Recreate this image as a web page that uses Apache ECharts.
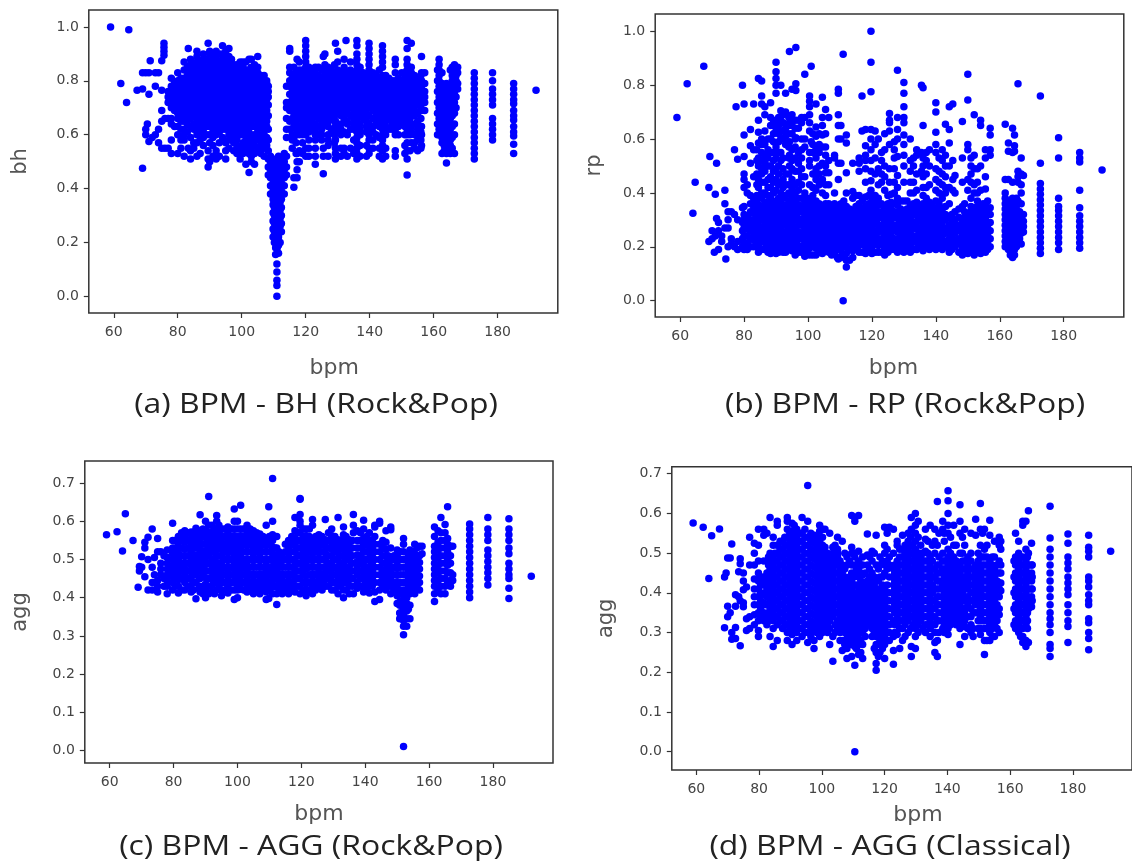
<!DOCTYPE html>
<html><head><meta charset="utf-8">
<style>html,body{margin:0;padding:0;background:#fff;overflow:hidden}#c{width:1132px;height:861px}</style>
<script src="https://cdn.jsdelivr.net/npm/echarts@6/dist/echarts.min.js"></script>
</head><body><div id="c"></div>
<script>
const xTicks=[60,80,100,120,140,160,180];
const bhTicks=[0,.2,.4,.6,.8,1];
const rpTicks=[0,.2,.4,.6,.8,1];
const aggTicks=[0,.1,.2,.3,.4,.5,.6,.7];
const captions=["(a) BPM - BH (Rock&Pop)","(b) BPM - RP (Rock&Pop)","(c) BPM - AGG (Rock&Pop)","(d) BPM - AGG (Classical)"];

// Each entry: [bpm, [values read at that bpm]]
const bhColumns=[
[59,[1]],[62.2,[.79]],[64,[.72]],[64.7,[.99]],[67.3,[.765]],[69,[.77,.83,.475]],[70,[.83,.6,.62]],[70.5,[.64]],[71,[.83,.75,.575]],[71.4,[.875]],[72,[.59]],[73,[.83,.6,.78]],[74,[.83,.57,.62]],[75,[.875,.765,.69,.65,.55]],[75.7,[.94,.925,.91,.895]],[76,[.66,.55]],
[77,[.66,.72,.74,.76,.55]],[78,[.53,.58,.64,.66,.7,.72,.74,.76,.78,.81]],
[80,[.53,.6,.63,.66,.68,.7,.72,.74,.76,.78,.8,.83]],
[82,[.52,.58,.6,.62,.65,.67,.69,.71,.73,.75,.77,.79,.81,.84,.87]],
[83.3,[.55,.92]],
[84,[.51,.54,.59,.63,.66,.68,.7,.72,.74,.76,.78,.8,.82,.84,.86,.88]],
[86,[.52,.57,.6,.62,.65,.67,.69,.71,.73,.75,.77,.79,.81,.83,.85,.87,.89,.91]],
[88,[.56,.59,.62,.64,.66,.68,.7,.72,.74,.76,.78,.8,.82,.84,.86,.88,.9]],
[89.5,[.94,.48,.51,.54]],
[90,[.5,.57,.6,.63,.65,.67,.69,.71,.73,.75,.77,.79,.81,.83,.85,.87,.9,.91]],
[92,[.51,.54,.6,.62,.64,.66,.68,.7,.72,.74,.76,.78,.8,.82,.84,.86,.88,.91]],
[94,[.59,.62,.64,.66,.68,.7,.72,.74,.76,.78,.8,.82,.84,.86,.88,.9,.93]],
[95,[.51,.54,.57]],
[96,[.6,.63,.65,.67,.69,.71,.73,.75,.77,.79,.81,.83,.85,.87,.89,.92]],
[97.5,[.54,.57,.59,.61,.64,.66,.68,.7,.72,.74,.76,.78,.8,.82,.84,.86]],
[99.5,[.51,.55,.6,.62,.65,.67,.69,.71,.73,.75,.77,.79,.81,.83,.85,.87]],
[101.3,[.49,.54,.56,.58,.61,.64,.66,.68,.7,.72,.74,.76,.78,.8,.82,.84,.87]],
[102.3,[.46,.88]],
[103,[.5,.52,.55,.58,.6,.63,.65,.67,.69,.71,.73,.75,.77,.79,.81,.83,.85,.88]],
[105,[.55,.58,.6,.62,.65,.67,.69,.71,.73,.75,.77,.79,.81,.83,.85,.89]],
[107,[.52,.55,.58,.6,.62,.64,.66,.68,.7,.72,.74,.76,.78,.8,.82]],
[108.3,[.45,.48,.51,.54,.58,.62,.67,.71,.74,.76,.78]],
[109,[.38,.41,.44,.47,.5,.52]],
[109.8,[.22,.25,.28,.31,.34,.36,.39,.42,.45,.48,.51]],
[110.6,[.155,.18,.2,.23,.26,.29,.32,.35,.38,.41,.44,.47,.5]],
[111,[0,.04,.06,.09,.12]],
[111.5,[.16,.19,.22,.25,.28,.31,.34,.37,.4,.43,.46,.49,.52]],
[112.4,[.24,.27,.3,.33,.36,.39,.42,.45,.48,.51]],
[113.3,[.38,.41,.44,.47,.5,.53]],
[114,[.45,.48,.52,.59,.62,.66,.7,.72,.78]],
[115,[.62,.65,.69,.72,.75,.78,.8,.83,.85,.91,.92]],
[116.3,[.405,.44,.59,.63,.68,.7,.72,.74,.76,.78,.8,.82,.85]],
[117.3,[.44,.47,.5,.53,.88]],
[118,[.5,.54,.6,.63,.66,.68,.7,.72,.74,.76,.78,.8,.82,.84,.87]],
[120,[.52,.55,.6,.62,.65,.67,.69,.71,.73,.75,.77,.79,.81,.83,.85,.87,.89,.91,.93,.95]],
[122,[.62,.65,.67,.69,.71,.73,.75,.77,.79,.81,.84]],
[123,[.49,.52,.55,.58,.85]],
[124,[.6,.63,.66,.68,.7,.72,.74,.76,.78,.8,.82,.85]],
[125.5,[.455,.52,.55,.89]],
[126,[.64,.67,.69,.71,.73,.75,.77,.79,.81,.83,.86,.9]],
[128,[.62,.66,.68,.7,.72,.74,.76,.78,.8,.82,.84]],
[129.3,[.51,.53,.55,.58,.61,.63,.65,.94]],
[130,[.68,.7,.72,.74,.76,.78,.8,.82,.84,.87,.91]],
[132,[.53,.55,.61,.66,.69,.71,.73,.75,.77,.79,.81,.83,.85,.88]],
[132.6,[.95]],
[134,[.62,.55,.67,.7,.72,.74,.76,.78,.8,.82,.84,.87]],
[136,[.51,.53,.55,.57,.59,.61,.63,.65,.68,.7,.72,.74,.76,.78,.8,.82,.84,.86,.88,.9,.93,.95]],
[138,[.66,.69,.71,.73,.75,.77,.79,.81,.83]],
[139.8,[.53,.55,.58,.6,.62,.64,.67,.7,.72,.74,.76,.78,.8,.82,.84,.86,.88,.9,.92,.94]],
[142,[.6,.65,.68,.7,.72,.74,.76,.78,.8,.82]],
[144,[.51,.54,.56,.58,.6,.62,.64,.66,.68,.7,.72,.74,.76,.78,.8,.82,.85,.87,.89,.91,.93]],
[146,[.62,.66,.69,.71,.73,.75,.77,.79,.81]],
[148,[.52,.54,.6,.62,.65,.67,.7,.72,.74,.76,.78,.8,.83,.86,.88]],
[150,[.65,.68,.7,.72,.74,.76,.78,.8,.83]],
[151.7,[.45,.51,.54,.57,.6,.62,.64,.67,.7,.72,.74,.76,.78,.8,.82,.84,.86,.88,.92,.95]],
[153,[.57,.61,.63,.68,.7,.72,.74,.76,.78,.8,.83,.85,.94]],
[155,[.54,.58,.6,.62,.65,.68,.71,.73,.75,.77,.79,.81]],
[156.2,[.56,.6,.63,.69,.72,.74,.76,.78,.8,.83,.89]],
[157.2,[.69,.72,.74,.76,.79,.83]],
[161.7,[.6,.62,.64,.66,.68,.7,.72,.74,.76,.78,.8,.82,.84,.86,.88]],
[162.6,[.53,.57,.59,.61,.63,.65,.67,.69,.71,.73,.75,.77,.79,.83]],
[164,[.495,.53,.55,.57,.59,.61,.63,.65,.67,.69,.71,.73,.75,.77,.79]],
[165.2,[.53,.56,.58,.6,.62,.64,.66,.68,.7,.72,.74,.76,.78,.84]],
[166.5,[.53,.6,.64,.68,.72,.75,.77,.79,.81,.83,.85,.86]],
[167.5,[.77,.79,.83,.85]],
[172.7,[.51,.53,.55,.57,.59,.61,.63,.65,.67,.69,.71,.73,.75,.77,.79,.81,.83]],
[178.4,[.58,.6,.62,.64,.66,.71,.73,.75,.77,.8,.83]],
[185,[.53,.565,.595,.61,.63,.655,.67,.69,.715,.73,.75,.77,.79]],
[192,[.765]]
];
const bhDense=[
[79,[.63,.69,.71,.73,.75,.77,.79]],[81,[.55,.58,.62,.65,.67,.69,.71,.73,.75,.77,.79,.81]],[83,[.61,.64,.66,.68,.7,.72,.74,.76,.78,.8,.82,.85]],[85,[.55,.57,.62,.64,.67,.69,.71,.73,.75,.77,.79,.81,.83,.86]],[87,[.53,.58,.61,.64,.66,.68,.7,.72,.74,.76,.78,.8,.82,.84,.87]],[89,[.6,.63,.65,.67,.69,.71,.73,.75,.77,.79,.81,.83,.85,.88]],[91,[.52,.56,.59,.62,.64,.66,.68,.7,.72,.74,.76,.78,.8,.82,.84,.86,.89]],[93,[.52,.57,.61,.63,.65,.67,.69,.71,.73,.75,.77,.79,.81,.83,.85,.87,.9]],[95,[.62,.64,.66,.68,.7,.72,.74,.76,.78,.8,.82,.84,.86,.88,.91]],[96,[.55,.58]],[96.8,[.62,.65,.67,.69,.71,.73,.75,.77,.79,.81,.83,.85,.88]],[98.5,[.53,.56,.58,.6,.63,.65,.67,.69,.71,.73,.75,.77,.79,.81,.83,.86]],[100.4,[.53,.57,.6,.63,.65,.67,.69,.71,.73,.75,.77,.79,.81,.83,.85,.87]],[102.2,[.53,.56,.59,.62,.64,.66,.68,.7,.72,.74,.76,.78,.8,.82,.84]],[104,[.49,.53,.56,.58,.6,.63,.66,.68,.7,.72,.74,.76,.78,.8,.82,.84,.86]],[106,[.53,.56,.58,.6,.63,.66,.68,.7,.72,.74,.76,.78,.8,.82]],[107.8,[.56,.59,.63,.65,.69,.73,.75,.77,.79,.8]],
[110.2,[.2,.24,.27,.3,.33,.37,.4,.43,.46,.49]],[111.1,[.18,.21,.24,.27,.3,.33,.36,.39,.42,.45,.48,.51]],[112,[.2,.26,.29,.32,.35,.38,.41,.44,.47,.5]],
[115.8,[.55,.58,.6,.66,.69,.71,.73,.75,.77,.79,.81]],[117,[.53,.57,.6,.62,.65,.67,.69,.71,.73,.75,.77,.79,.81,.83]],[119,[.53,.57,.6,.62,.64,.66,.68,.7,.72,.74,.76,.78,.8,.82,.84]],[121,[.52,.55,.58,.61,.63,.66,.68,.7,.72,.74,.76,.78,.8,.82,.85]],[123,[.6,.62,.64,.67,.69,.71,.73,.75,.77,.79,.81,.83]],[125,[.58,.6,.62,.65,.67,.69,.71,.73,.75,.77,.79,.81,.84]],[127,[.52,.56,.58,.6,.63,.65,.68,.7,.72,.74,.76,.78,.8,.82,.85]],[129,[.57,.6,.62,.65,.67,.69,.71,.73,.75,.77,.79,.81,.83,.86]],[131,[.52,.55,.6,.62,.64,.67,.69,.71,.73,.75,.77,.79,.81,.83]],[133,[.52,.6,.64,.65,.68,.7,.72,.74,.76,.78,.8,.82]],[135,[.53,.58,.62,.64,.66,.69,.71,.73,.75,.77,.79,.81,.83]],[137,[.52,.56,.6,.62,.64,.67,.7,.72,.74,.76,.78,.8,.82,.85]],[139,[.52,.56,.61,.63,.65,.68,.71,.73,.75,.77,.79,.81]],[141,[.55,.58,.61,.63,.66,.69,.71,.73,.75,.77,.79,.81,.83]],[143,[.52,.55,.59,.63,.65,.67,.69,.71,.73,.75,.77,.79,.81,.84]],[145,[.52,.55,.6,.63,.65,.68,.7,.72,.74,.76,.78,.8,.82]],[147,[.62,.64,.66,.68,.7,.72,.74,.76,.78,.8]],[149,[.6,.63,.66,.69,.71,.73,.75,.77,.79,.81]],[151,[.53,.56,.6,.63,.66,.69,.71,.73,.75,.77,.79,.81,.83]],[152.6,[.54,.6,.64,.66,.69,.71,.73,.75,.77,.79,.81]],[154,[.55,.57,.6,.64,.67,.69,.71,.73,.75,.77,.79,.82]],[156,[.55,.58,.61,.63,.66,.7,.72,.74,.76,.78,.8,.82]],
[161.2,[.6,.64,.68,.72,.76,.8,.84]],[163.3,[.54,.56,.58,.6,.62,.64,.66,.68,.7,.72,.74,.76,.78]],[165.8,[.55,.59,.63,.67,.71,.75,.8,.82,.84,.85]],[167,[.7,.74,.78,.8,.82,.84]]
];

const rpColumns=[
[59,[.68]],[62.2,[.805]],[64,[.325]],[64.7,[.44]],[67.4,[.87]],[69,[.42,.22]],[69.3,[.535]],[70,[.26,.23]],[70.7,[.18]],[71,[.395,.24]],[71.4,[.51,.305]],[72,[.19,.29,.26]],[73,[.24,.22]],[74,[.41,.36,.27]],[74.3,[.155]],[75,[.3,.2,.27,.33]],[76,[.33,.23,.21]],[77,[.56,.2,.32]],[77.5,[.72]],[78,[.525,.19,.22,.3]],
[79.5,[.8,.2,.23,.26,.29,.345]],[80,[.73,.615,.535,.47,.45,.42,.35]],
[81,[.19,.215,.24,.265,.29,.315,.4,.43]],[82,[.51,.575,.635,.39]],
[83,[.2,.225,.25,.275,.3,.325,.35,.38,.46,.56,.73]],
[84.5,[.18,.205,.23,.255,.28,.305,.33,.355,.42,.45,.5,.53,.585,.625,.67,.825]],
[85.5,[.38,.47,.55,.73,.76,.815]],
[86.5,[.19,.215,.24,.265,.29,.315,.34,.365,.4,.44,.48,.51,.54,.58,.63,.69,.72]],
[88.3,[.175,.2,.225,.25,.275,.3,.325,.35,.38,.42,.46,.5,.55,.6,.65,.68,.735]],
[90,[.175,.2,.225,.25,.275,.3,.325,.35,.37,.41,.45,.49,.53,.57,.63,.66,.77,.8,.825,.85,.885]],
[91.5,[.19,.215,.24,.265,.29,.315,.34,.365,.4,.44,.52,.55,.6,.63,.67,.705,.8]],
[93,[.18,.205,.23,.255,.28,.305,.33,.355,.39,.43,.47,.58,.61,.64,.7,.77]],
[94.2,[.925,.54,.5,.66,.59]],
[95,[.185,.21,.235,.26,.285,.31,.335,.36,.38,.42,.45,.49,.52,.56,.62,.65,.69,.785]],
[96.2,[.94,.805,.78,.605]],
[97,[.18,.205,.23,.255,.28,.305,.33,.355,.38,.41,.44,.48,.51,.55,.64,.67]],
[99,[.165,.19,.215,.24,.265,.29,.315,.34,.365,.4,.46,.57,.6,.68,.84]],
[100.5,[.17,.195,.22,.245,.27,.295,.32,.345,.37,.43,.5,.52,.55,.63,.66,.69,.72,.74,.76]],
[101,[.87,.59]],
[102.5,[.17,.195,.22,.245,.27,.295,.32,.345,.37,.41,.45,.49,.53,.56,.61,.645,.73]],
[104.5,[.175,.2,.225,.25,.275,.3,.325,.35,.4,.45,.51,.57,.615,.65,.68,.755]],
[105.5,[.71,.62,.54,.475]],
[106.5,[.18,.205,.23,.255,.28,.305,.33,.36,.43,.475,.52,.68]],
[108.3,[.18,.205,.23,.255,.28,.305,.33,.36,.4,.53,.54]],
[109.5,[.155,.6,.65,.69,.785,.77,.45,.51]],
[110.3,[.16,.185,.21,.235,.26,.285,.31,.335,.36,.65,.6,.51]],
[111,[0,.915]],
[112,[.125,.15,.175,.2,.225,.25,.275,.3,.325,.35,.4,.475,.585,.615]],
[114,[.16,.185,.21,.235,.26,.285,.31,.335,.38,.405,.51]],
[116,[.18,.205,.23,.255,.28,.305,.33,.36,.39,.48,.51,.53]],
[116.9,[.76,.63]],
[118,[.175,.2,.225,.25,.275,.3,.325,.35,.385,.44,.49,.52,.54,.575,.635]],
[119.7,[1,.885,.775,.635,.6,.56,.52,.48,.445,.41]],
[120,[.175,.2,.225,.25,.275,.3,.325,.35,.375]],
[121,[.63,.58,.47,.53]],
[122,[.18,.205,.23,.255,.28,.305,.33,.355,.38,.43,.49,.6]],
[124,[.17,.195,.22,.245,.27,.295,.32,.345,.41,.46,.5,.56,.62]],
[125.5,[.44,.49,.58,.63,.67,.695,.66]],
[126,[.19,.215,.24,.265,.29,.315,.34,.365,.395]],
[128,[.18,.205,.23,.255,.28,.305,.33,.355,.38,.42,.465,.535,.6,.635,.68,.855]],
[130,[.18,.205,.23,.255,.28,.305,.33,.37,.44,.5,.54,.58,.615,.68,.66,.72,.77,.81]],
[132,[.18,.205,.23,.255,.28,.305,.33,.355,.4,.44,.48,.52,.6]],
[134,[.19,.215,.24,.265,.29,.315,.34,.365,.41,.47,.54,.56]],
[135.5,[.8,.48,.55]],
[136,[.185,.21,.235,.26,.285,.31,.335,.36,.39,.42,.46,.5,.53,.65,.79]],
[138,[.19,.215,.24,.265,.29,.315,.34,.365,.43,.5,.56]],
[140,[.19,.215,.24,.265,.29,.315,.34,.37,.41,.45,.49,.55,.58,.625,.7,.735]],
[142,[.19,.215,.24,.265,.29,.315,.34,.38,.43,.47,.52,.56]],
[143,[.655,.46,.4]],
[144.2,[.18,.205,.23,.255,.28,.31,.36,.42,.5,.585,.635,.72]],
[145.3,[.73,.52,.45,.41]],
[146,[.2,.225,.25,.275,.3,.33,.465,.4]],
[148.3,[.17,.195,.22,.245,.27,.295,.35,.665,.53,.44]],
[150,[.175,.2,.225,.25,.275,.3,.325,.41,.45,.56,.58,.745,.84]],
[152,[.17,.195,.22,.245,.27,.295,.32,.345,.4,.43,.49,.54,.69]],
[154,[.175,.2,.225,.25,.275,.3,.325,.35,.41,.5,.67,.65]],
[155.5,[.18,.205,.23,.255,.28,.305,.33,.355,.46,.415,.53,.56]],
[157,[.2,.23,.26,.29,.32,.345,.54,.56,.615,.64]],
[161.7,[.2,.22,.24,.26,.28,.3,.32,.34,.36,.38,.4,.45,.655]],
[162.7,[.19,.21,.23,.25,.27,.29,.31,.33,.35,.37,.45,.555,.585]],
[164,[.16,.18,.2,.22,.24,.26,.28,.3,.32,.34,.36,.38,.44,.55,.64]],
[164.6,[.17,.19,.23,.28,.31,.37,.575,.615,.555]],
[165.7,[.21,.25,.29,.33,.37,.44,.46,.48,.805]],
[166.7,[.21,.25,.28,.31,.36,.4,.43,.47,.53]],
[167.4,[.255,.275,.295,.32,.465]],
[172.7,[.175,.195,.215,.235,.255,.275,.295,.315,.335,.355,.375,.395,.415,.435,.51,.76]],
[178.4,[.19,.215,.235,.255,.275,.295,.315,.335,.35,.38,.53,.605]],
[185,[.195,.215,.235,.255,.275,.295,.315,.345,.41,.515,.53,.55]],
[192,[.485]]
];
const rpDense=[
[80,[.19,.21,.24,.27,.3,.32]],[82,[.2,.23,.26,.28,.3,.33,.36]],[84,[.2,.22,.24,.27,.29,.32,.34,.37,.39,.43,.47,.52,.56]],[85.5,[.19,.22,.25,.27,.3,.32,.35,.4,.44,.49,.52,.58,.6]],[87.5,[.18,.21,.23,.26,.28,.31,.33,.36,.39,.42,.45,.5,.53,.56,.6]],[89.2,[.19,.21,.24,.26,.29,.31,.34,.36,.4,.44,.48,.52,.55,.59,.62,.65,.67]],[90.8,[.18,.21,.23,.26,.28,.31,.33,.36,.38,.43,.47,.5,.55,.59,.62,.65,.68]],[92.2,[.18,.2,.23,.25,.28,.3,.33,.35,.38,.42,.45,.49,.53,.6,.63,.66,.69]],[94,[.19,.22,.24,.27,.29,.32,.34,.37,.4,.43,.47,.53,.57,.62,.65,.68]],[96,[.17,.2,.22,.25,.27,.3,.32,.35,.37,.4,.43,.48,.53,.57,.6,.64,.67]],[98,[.18,.2,.23,.25,.28,.3,.33,.35,.38,.43,.46,.49,.53,.56,.6,.66,.68]],[99.8,[.18,.21,.23,.26,.28,.31,.33,.36,.38]],[101.5,[.17,.21,.23,.26,.28,.31,.33,.36,.39,.42,.47,.55,.58,.62]],[103.5,[.18,.21,.24,.26,.29,.31,.34,.36,.43,.47,.5,.55,.58,.62]],[105.5,[.19,.21,.24,.26,.29,.31,.34,.36,.39,.43,.5,.57]],[107.4,[.17,.19,.22,.24,.27,.29,.32,.35]],[109.2,[.16,.19,.22,.24,.27,.29,.32,.35]],[111.2,[.17,.2,.22,.24,.27,.29,.32,.34,.37]],[113,[.15,.19,.22,.24,.27,.29,.32,.34]],[115,[.19,.22,.24,.27,.29,.32,.35,.39]],[117,[.18,.21,.24,.26,.29,.31,.34,.37]],[119,[.19,.21,.24,.26,.29,.31,.34,.36,.39]],[121,[.18,.21,.24,.26,.29,.31,.34,.36,.39]],[123,[.18,.21,.23,.26,.28,.31,.33,.36,.44,.47,.52,.55]],[125,[.18,.21,.23,.26,.28,.31,.33,.36,.39]],[127,[.19,.21,.23,.26,.28,.31,.33,.36,.4,.44,.49,.53,.56,.59]],[129,[.19,.22,.24,.27,.29,.32,.34,.37]],[131,[.19,.22,.24,.27,.29,.32,.34,.37]],[133,[.19,.22,.24,.27,.29,.32,.34,.36,.4,.44,.5,.53]],[135,[.2,.22,.25,.27,.3,.33,.35]],[137,[.2,.22,.25,.28,.3,.33,.35,.38,.42,.47,.52,.55]],[139,[.2,.23,.25,.28,.3,.33,.35]],[141,[.2,.23,.25,.28,.3,.33,.36,.4,.44,.48,.53]],[143,[.2,.22,.25,.27,.3,.32,.35,.42,.5,.54]],[145,[.19,.22,.24,.27,.29,.32]],[147.2,[.18,.21,.23,.26,.28,.31,.34]],[149,[.18,.21,.23,.26,.28,.31,.33,.36]],[151,[.18,.21,.23,.26,.28,.31,.33,.35,.38,.44,.47,.5,.53]],[153,[.18,.21,.23,.26,.28,.31,.33,.35,.37,.4,.44,.49]],[154.8,[.19,.21,.24,.26,.29,.31,.34,.36]],[156.2,[.19,.22,.24,.27,.29,.32,.34,.37]],
[163.3,[.17,.19,.21,.23,.25,.27,.29,.31,.33,.35]],[165.2,[.2,.22,.24,.26,.28,.3,.32,.34,.36,.38]],[166.2,[.23,.27,.3,.33]]
];

const aggRockColumns=[
[59,[.565]],[62.3,[.573]],[64,[.522]],[64.9,[.62]],[67.3,[.55]],[68.9,[.427]],[69.3,[.47,.482]],[70,[.507,.48]],[71,[.545,.53,.455]],[72,[.558,.42,.5]],[73.3,[.42,.44,.48,.58]],[74,[.505,.46]],[75,[.415,.43,.445,.555,.52]],[76,[.46,.475,.49,.52]],[77,[.51,.45,.43]],
[78,[.41,.43,.445,.46,.475,.49,.505,.525]],[79.7,[.42,.44,.455,.47,.485,.5,.515,.53,.55,.595]],
[81.5,[.412,.43,.447,.465,.482,.5,.517,.535,.552,.56]],
[83.5,[.42,.44,.457,.475,.492,.51,.527,.545,.562,.575]],
[85.5,[.415,.432,.45,.467,.485,.502,.52,.537,.555,.572]],
[87,[.397,.44,.46,.478,.495,.512,.53,.547,.565,.582]],
[88.3,[.617,.415,.42,.45,.47,.487,.505,.522,.54,.557,.575]],
[90,[.4,.418,.435,.452,.47,.487,.505,.522,.54,.557,.575,.6]],
[91,[.665,.41,.59]],
[92,[.415,.432,.45,.467,.485,.502,.52,.537,.555,.572,.59]],
[93.5,[.42,.44,.457,.475,.492,.51,.527,.545,.562,.58,.6,.615]],
[95,[.405,.42,.44,.457,.475,.492,.51,.527,.545,.562,.58]],
[97,[.412,.43,.447,.465,.482,.5,.517,.535,.552,.57,.585]],
[99,[.395,.42,.44,.457,.475,.492,.51,.527,.545,.562,.58,.6,.632]],
[100,[.4,.6,.55,.52,.47,.44]],
[101,[.422,.44,.457,.475,.492,.51,.527,.545,.562,.58,.642]],
[103,[.415,.432,.45,.467,.485,.502,.52,.537,.555,.572,.59]],
[105,[.41,.428,.445,.462,.48,.497,.515,.532,.55,.567,.575]],
[107,[.41,.428,.445,.462,.48,.497,.515,.532,.55,.567]],
[109,[.395,.415,.432,.45,.467,.485,.502,.52,.537,.555,.59]],
[109.8,[.638,.398,.47]],
[111,[.712,.6,.41,.428,.445,.462,.48,.497,.515,.532,.55,.565]],
[112.3,[.382,.41,.43,.45,.47,.49,.51,.53,.56]],
[114,[.41,.428,.445,.462,.48,.497,.515]],
[116,[.41,.428,.445,.462,.48,.497,.515,.532,.55]],
[118,[.415,.432,.45,.467,.485,.502,.52,.537,.555,.575,.61]],
[119.6,[.658,.66,.618,.6,.41,.43,.45,.47,.49,.51,.53,.55,.57,.59]],
[121.5,[.405,.422,.44,.457,.475,.492,.51,.527,.545,.562,.58]],
[123.5,[.41,.428,.445,.462,.48,.497,.515,.532,.55,.59,.605]],
[125.5,[.43,.447,.465,.482,.5,.517,.535,.552,.565]],
[127.5,[.43,.447,.465,.482,.5,.517,.535,.552,.605]],
[129.5,[.42,.44,.457,.475,.492,.51,.527,.545,.562,.58]],
[131.5,[.41,.43,.447,.465,.482,.5,.517,.535,.552,.61]],
[133.2,[.4,.42,.44,.457,.475,.492,.51,.527,.545,.565,.585]],
[135,[.41,.43,.447,.465,.482,.5,.517,.535,.552]],
[136.3,[.618,.59,.57,.41]],
[137.5,[.425,.442,.46,.477,.495,.512,.53,.55,.575]],
[139.5,[.415,.432,.45,.467,.485,.502,.52,.537,.555,.58,.603]],
[141.3,[.412,.43,.447,.465,.482,.5,.517,.535,.552,.57]],
[143,[.39,.415,.44,.46,.48,.5,.52,.54,.56,.585,.59]],
[144.5,[.395,.42,.44,.46,.48,.5,.52,.54,.6,.595]],
[146.5,[.42,.44,.457,.475,.492,.51,.527,.545,.575]],
[148,[.41,.43,.447,.465,.482,.5,.53,.585,.578]],
[150,[.385,.405,.425,.442,.46,.477,.495,.51,.525]],
[150.8,[.345,.36,.38,.41]],
[152,[.01,.303,.325,.34,.355,.37,.388,.405,.42,.44,.46,.48,.5,.52,.54,.555]],
[153,[.325,.345,.365,.385,.4,.42,.44,.46,.48,.5]],
[154,[.345,.38,.41,.43,.45,.47,.49,.51,.525]],
[155.5,[.41,.428,.445,.462,.48,.497,.515,.54]],
[157,[.42,.44,.457,.475,.492,.51,.535]],
[157.8,[.515,.535]],
[161.7,[.39,.41,.43,.445,.46,.475,.49,.505,.52,.535,.56,.585]],
[162.8,[.425,.445,.465,.485,.505,.525,.545,.575]],
[163.7,[.41,.43,.45,.47,.49,.51,.53,.55,.57,.61]],
[165,[.41,.43,.45,.47,.49,.51,.53,.55,.57,.592]],
[165.8,[.638,.44,.465,.485,.5,.52,.54,.555]],
[166.7,[.43,.445,.465,.49,.51,.535]],
[167.4,[.445,.46,.535]],
[172.7,[.4,.415,.43,.445,.46,.475,.49,.505,.52,.535,.55,.565,.58,.593]],
[178.4,[.433,.45,.465,.48,.495,.51,.525,.55,.565,.58,.61]],
[185,[.398,.425,.45,.46,.475,.49,.515,.53,.55,.565,.58,.607]],
[192,[.456]]
];
const aggRockDense=[
[80.5,[.43,.45,.47,.49,.51,.53,.55]],[82.5,[.42,.45,.47,.49,.51,.53,.55,.57]],[84.5,[.43,.45,.47,.49,.51,.53,.55,.57]],[86.2,[.42,.44,.47,.49,.51,.53,.55,.57]],[88,[.43,.45,.47,.49,.51,.53,.55,.57]],[89.2,[.41,.43,.46,.48,.5,.52,.54,.56,.58]],[91,[.43,.45,.47,.49,.51,.53,.55,.57]],[92.8,[.41,.44,.46,.48,.5,.52,.54,.56,.58]],[94.2,[.43,.45,.47,.49,.51,.53,.55,.57,.59]],[96,[.42,.44,.46,.48,.5,.52,.54,.56,.58]],[98,[.42,.44,.46,.48,.5,.52,.54,.56,.58]],[100,[.42,.43,.45,.46,.48,.5,.51,.53,.54,.56,.58]],[102,[.42,.44,.46,.48,.5,.52,.54,.56,.58]],[104,[.42,.44,.46,.48,.5,.52,.54,.56,.58]],[106,[.42,.44,.46,.48,.5,.52,.54,.56,.57]],[108,[.42,.44,.46,.48,.5,.52,.54,.56]],[110,[.42,.44,.46,.48,.5,.52,.54,.56]],[111.8,[.43,.45,.47,.49,.51,.53]],[113,[.42,.44,.46,.48,.5,.52]],[115,[.42,.44,.46,.48,.5,.52,.54]],[117,[.42,.44,.46,.48,.5,.52,.54,.56]],[119,[.43,.45,.47,.49,.51,.53,.55,.57]],[120.6,[.42,.44,.46,.48,.5,.52,.54,.56,.58]],[122.5,[.42,.44,.46,.48,.5,.52,.54,.56,.58]],[124.5,[.42,.44,.46,.48,.5,.52,.54,.56]],[126.5,[.42,.44,.46,.48,.5,.52,.54,.56]],[128.5,[.43,.45,.47,.49,.51,.53,.55,.57]],[130.5,[.42,.44,.46,.48,.5,.52,.54,.56]],[132.3,[.43,.45,.47,.49,.51,.53,.55]],[134,[.42,.44,.46,.48,.5,.52,.54,.56]],[136,[.43,.45,.47,.49,.51,.53,.55]],[138.5,[.43,.45,.47,.49,.51,.53,.55,.57]],[140.4,[.42,.44,.46,.48,.5,.52,.54,.56]],[142.2,[.43,.45,.47,.49,.51,.53,.55]],[145.5,[.43,.45,.47,.49,.51,.53,.55]],[147.2,[.43,.45,.47,.49,.51]],[149,[.42,.44,.46,.48,.5,.51]],[151,[.36,.39,.42,.44,.46,.48,.5,.52]],[153.5,[.37,.41,.43,.45,.47,.49,.51]],[155,[.42,.44,.46,.48,.5,.52]],[156.2,[.43,.45,.47,.49,.51,.53]]
];

const aggClassicalColumns=[
[59,[.576]],[62.2,[.565]],[64,[.436]],[64.9,[.544]],[67.4,[.561]],[69,[.44,.312]],[69.5,[.45]],[70,[.34,.366,.488]],[70.8,[.35,.488]],[71.3,[.3,.283,.523]],[72.5,[.366,.285,.395,.313]],[73.5,[.39,.453]],[74,[.267,.38,.486,.473]],[75,[.375,.365,.43,.408,.45]],[76,[.335,.305,.415]],[77,[.34,.31,.47,.54]],
[78.5,[.32,.345,.37,.39,.41,.435,.47,.5,.525]],[79.8,[.29,.305,.33,.35,.37,.39,.41,.43,.45,.48,.52,.56]],
[81.5,[.33,.35,.375,.395,.42,.44,.48,.545,.56]],
[82.5,[.32,.39,.41,.45,.55]],
[83.5,[.29,.34,.36,.38,.4,.42,.44,.46,.48,.5,.59]],
[84.5,[.265,.31,.33,.35,.37,.39,.41,.43,.45,.47,.49,.52,.54]],
[85.8,[.28,.32,.34,.36,.38,.4,.42,.44,.46,.48,.5,.52,.58,.57]],
[87.5,[.31,.33,.35,.37,.39,.41,.43,.45,.47,.49,.51,.53]],
[89,[.28,.3,.32,.34,.36,.38,.4,.42,.44,.46,.48,.5,.52,.54,.56,.58,.59]],
[90.5,[.27,.295,.315,.335,.355,.375,.395,.415,.435,.455,.475,.495,.515,.535,.555,.575]],
[92,[.28,.3,.32,.34,.36,.38,.4,.42,.44,.46,.48,.5,.52,.54,.56]],
[93.7,[.29,.31,.33,.35,.37,.39,.41,.43,.45,.47,.49,.51,.53,.55,.59]],
[95.5,[.275,.3,.32,.34,.36,.38,.4,.42,.44,.46,.48,.5,.52,.54,.58,.67]],
[97.5,[.26,.28,.305,.325,.345,.365,.385,.405,.425,.445,.465,.485,.505,.525,.545]],
[99.3,[.29,.31,.33,.35,.37,.39,.41,.43,.45,.47,.49,.51,.53,.555,.57]],
[101,[.315,.335,.355,.375,.395,.415,.435,.455,.475,.495,.515,.56]],
[102.5,[.27,.31,.33,.35,.37,.39,.41,.43,.45,.47,.49,.55]],
[103.5,[.228,.29,.34,.36,.38,.4,.42,.44,.46,.48,.5,.515]],
[105,[.31,.33,.35,.37,.39,.41,.43,.45,.47,.48,.49,.5,.51,.54]],
[106.5,[.255,.28,.31,.33,.35,.37,.39,.41,.43,.45,.47,.53]],
[108,[.235,.26,.285,.305,.325,.345,.365,.385,.405,.425,.47,.49]],
[109.5,[.24,.27,.29,.31,.33,.35,.37,.39,.41,.43,.45,.47,.5,.515,.595]],
[110.5,[0,.218,.265,.29,.31,.33,.35,.37,.39,.45,.47,.49,.58,.59]],
[111.7,[.245,.27,.295,.315,.335,.355,.375,.395,.415,.44,.46,.48,.505,.595]],
[113,[.235,.27,.3,.32,.34,.36,.38,.4,.42,.445,.47,.49]],
[114.5,[.33,.35,.37,.39,.41,.43,.47,.495,.548]],
[116,[.29,.31,.33,.35,.37,.39,.41,.43,.45,.48,.505]],
[117.3,[.205,.222,.25,.27,.29,.31,.33,.35,.37,.39,.47,.545]],
[118.5,[.25,.28,.3,.32,.34,.36,.38,.4,.44,.47,.49]],
[120,[.235,.27,.29,.31,.33,.35,.37,.39,.41,.45,.47,.5,.52,.565]],
[121.5,[.28,.3,.32,.34,.36,.38,.4,.44,.47,.49,.565]],
[122.8,[.22,.255,.29,.33,.36,.38,.4,.42,.44,.46,.5,.56]],
[124,[.295,.32,.34,.36,.38,.4,.42,.44,.46,.48,.52,.53]],
[125.7,[.28,.31,.33,.35,.37,.39,.41,.43,.45,.47,.49,.51,.545]],
[127.5,[.3,.33,.35,.37,.39,.41,.43,.45,.47,.49,.51,.53,.55]],
[128.5,[.24,.265,.59,.56]],
[129.8,[.26,.29,.31,.33,.35,.37,.39,.41,.43,.45,.47,.49,.51,.53,.55,.57,.6]],
[131.5,[.33,.35,.37,.39,.41,.43,.45,.47,.49,.5,.52]],
[133,[.3,.32,.34,.36,.38,.4,.42,.44,.46,.48,.505,.56,.535]],
[134.5,[.29,.31,.33,.35,.37,.39,.41,.43,.45,.47,.49,.57]],
[136,[.25,.275,.3,.32,.34,.36,.38,.41,.44,.46,.5,.53,.56]],
[136.8,[.24,.28,.33,.37,.39,.41,.43,.45,.47,.63,.52]],
[138.5,[.31,.33,.35,.37,.39,.41,.42,.43,.45,.46,.48,.5,.58,.56]],
[140.2,[.295,.31,.33,.35,.37,.39,.41,.43,.45,.47,.49,.51,.55,.57,.6,.632,.657]],
[142,[.33,.35,.37,.39,.41,.43,.45,.47,.49,.52,.57]],
[144,[.27,.31,.33,.35,.37,.39,.41,.43,.45,.47,.5,.55,.58,.622]],
[145.5,[.29,.315,.33,.35,.36,.38,.39,.41,.42,.43,.44,.46,.48,.52,.56]],
[147.5,[.3,.32,.34,.36,.38,.4,.42,.44,.46,.48,.5,.55]],
[149,[.35,.37,.39,.41,.43,.45,.47,.545,.585]],
[150.5,[.295,.31,.33,.34,.36,.37,.38,.39,.4,.41,.42,.44,.46,.49,.52,.56,.625]],
[151.8,[.245,.28,.31,.33,.35,.37,.39,.41,.43,.45,.47,.49,.51,.56]],
[153.5,[.28,.3,.32,.34,.36,.38,.4,.42,.44,.46,.48,.545,.583]],
[155,[.29,.32,.34,.36,.38,.4,.42,.44,.46,.49,.53]],
[156.5,[.3,.345,.36,.39,.41,.425,.45,.48,.52,.54]],
[157,[.405,.425,.45,.47,.51,.53]],
[161.7,[.31,.33,.35,.37,.39,.41,.43,.45,.47,.49,.55]],
[162.7,[.3,.32,.34,.36,.38,.4,.42,.44,.46,.48,.5,.53]],
[164,[.275,.29,.31,.33,.35,.37,.39,.41,.43,.45,.47,.49,.57,.58]],
[165,[.265,.28,.32,.34,.36,.38,.4,.42,.44,.46,.48,.51,.58]],
[165.8,[.275,.36,.38,.41,.44,.47,.5,.607]],
[166.8,[.365,.38,.39,.41,.43,.44,.45,.47,.525]],
[172.7,[.24,.26,.27,.3,.32,.335,.35,.37,.39,.41,.43,.45,.47,.49,.51,.538,.618]],
[178.4,[.275,.315,.33,.35,.37,.395,.41,.425,.44,.46,.475,.49,.525,.548]],
[185,[.257,.285,.3,.325,.335,.37,.38,.395,.415,.43,.44,.49,.505,.515,.545]],
[192,[.505]]
];
const aggClassicalDense=[
[80.5,[.34,.36,.38,.4,.42,.44]],[82,[.34,.37,.4,.43]],[83,[.33,.35,.37,.39,.41,.43,.45,.47,.49]],[85,[.34,.36,.38,.4,.42,.44,.46,.48,.5]],[86.7,[.33,.35,.37,.39,.41,.43,.45,.47,.49,.51,.53]],[88.2,[.32,.34,.36,.38,.4,.42,.44,.46,.48,.5,.52,.54]],[89.8,[.31,.33,.35,.37,.39,.41,.43,.45,.47,.49,.51,.53,.55]],[91.2,[.31,.33,.35,.37,.39,.41,.43,.45,.47,.49,.51,.53,.55,.57]],[92.8,[.31,.33,.35,.37,.39,.41,.43,.45,.47,.49,.51,.53,.55]],[94.6,[.3,.32,.34,.36,.38,.4,.42,.44,.46,.48,.5,.52,.54,.56]],[96.5,[.29,.31,.33,.35,.37,.39,.41,.43,.45,.47,.49,.51,.53,.55]],[98.4,[.3,.32,.34,.36,.38,.4,.42,.44,.46,.48,.5,.52,.54]],[100.2,[.3,.32,.34,.36,.38,.4,.42,.44,.46,.48,.5,.52,.54,.56]],[101.8,[.3,.32,.34,.36,.38,.4,.42,.44,.46,.48,.5]],[104.2,[.3,.32,.35,.37,.39,.41,.43,.45,.47,.49,.52]],[105.8,[.28,.3,.32,.34,.36,.38,.4,.42,.44,.46,.48]],[107.3,[.27,.3,.32,.34,.36,.38,.4,.42,.44,.46,.5]],[108.8,[.28,.3,.32,.34,.36,.38,.4,.42,.44,.48]],[110.1,[.28,.3,.32,.34,.36,.38,.4,.42,.44,.5]],[111,[.26,.28,.3,.32,.34,.36,.38,.4,.42,.46]],[112.4,[.25,.28,.31,.33,.35,.37,.39,.41,.43,.45,.47]],[113.8,[.29,.31,.34,.36,.38,.4,.42,.45]],[115.2,[.32,.34,.36,.38,.4,.42,.44,.46,.49]],[116.7,[.26,.3,.32,.34,.36,.38,.4,.42,.44,.5]],[118,[.24,.27,.29,.31,.33,.35,.37,.39,.41,.43,.46]],[119.3,[.26,.28,.3,.32,.34,.36,.38,.4,.42,.44,.48]],[120.8,[.28,.3,.32,.34,.36,.38,.4,.42,.46,.48,.51,.55]],[123.2,[.3,.32,.35,.37,.39,.41,.43,.45,.47]],[124.8,[.26,.31,.33,.35,.37,.39,.41,.43,.45,.47,.49,.51]],[126.5,[.29,.32,.34,.36,.38,.4,.42,.44,.46,.48,.5,.52]],[128.3,[.31,.34,.36,.38,.4,.42,.44,.46,.48,.5,.52,.54]],[129,[.32,.34,.36,.38,.4,.42,.44,.46,.48,.5,.52]],[130.7,[.3,.32,.34,.36,.38,.4,.42,.44,.46,.48,.5,.54,.58]],[132.2,[.31,.34,.36,.38,.4,.42,.44,.46,.48,.5]],[133.8,[.32,.34,.36,.38,.4,.42,.44,.46,.48,.5,.53]],[135.2,[.32,.34,.36,.38,.4,.42,.44,.46,.48,.52]],[137.3,[.3,.33,.35,.37,.39,.41,.43,.45,.47,.49,.55]],[139,[.3,.32,.34,.36,.38,.4,.42,.44,.46,.48,.53,.55]],[141,[.32,.34,.36,.38,.4,.42,.44,.46,.48,.5,.54]],[142.8,[.32,.34,.36,.38,.4,.42,.44,.46,.48,.52]],[144.8,[.32,.34,.36,.38,.4,.42,.44,.46,.48,.5,.54]],[146.5,[.31,.34,.37,.39,.41,.43,.45,.47,.49]],[148.2,[.29,.31,.35,.38,.4,.42,.44,.46]],[149.8,[.31,.33,.35,.37,.38,.4,.42,.44,.46,.48,.5]],[151.2,[.33,.35,.37,.39,.41,.43,.45,.47,.49,.55]],[152.6,[.28,.31,.33,.35,.37,.39,.41,.43,.45,.47,.49,.52]],[154.3,[.29,.31,.33,.35,.37,.39,.41,.43,.45,.47,.49]],[155.8,[.31,.33,.35,.37,.39,.41,.43,.45,.47]],
[161.2,[.32,.36,.4,.44,.48]],[163.3,[.29,.31,.33,.35,.37,.39,.41,.43,.45,.47,.49]],[165.5,[.31,.33,.35,.37,.39,.43,.45,.47,.49]],[167,[.38,.41,.44,.47]]
];

const toPairs=cols=>cols.flatMap(c=>c[1].map(v=>[c[0],v]));
const panels=[
 {grid:[88.8,10,469,303],y:[-.062,1.063],yName:'bh',ticks:bhTicks,cols:[...bhColumns,...bhDense],yGap:58,xGap:44,pad:[0,0,0,22]},
 {grid:[655.2,14,468.6,303],y:[-.0605,1.064],yName:'rp',ticks:rpTicks,cols:[...rpColumns,...rpDense],yGap:50,xGap:40,pad:[0,0,0,8]},
 {grid:[84.8,461,468.2,302],y:[-.033,.758],yName:'agg',ticks:aggTicks,cols:[...aggRockColumns,...aggRockDense],yGap:54,xGap:40,pad:[0,0,0,0]},
 {grid:[671.8,466.7,469,303.3],y:[-.046,.7176],yName:'agg',ticks:aggTicks,cols:[...aggClassicalColumns,...aggClassicalDense],yGap:55,xGap:34,pad:[0,0,0,32]}
];
const capPos=[[316,405],[905,405],[311,847],[890,847]];
const ink='#444';
const chart=echarts.init(document.getElementById('c'),null,{renderer:'canvas'});
chart.setOption({
 animation:false,
 backgroundColor:'#fff',
 graphic:captions.map((t,i)=>({type:'text',x:capPos[i][0],y:capPos[i][1],scaleX:1.14,silent:true,
   style:{text:t,fill:'#222',font:'28px "Open Sans"',align:'center',verticalAlign:'middle'}})),
 grid:panels.map(p=>({left:p.grid[0],top:p.grid[1],width:p.grid[2],height:p.grid[3],show:true,
   borderColor:'#333',borderWidth:1.5,backgroundColor:'#fff',containLabel:false})),
 xAxis:panels.map((p,i)=>({type:'value',gridIndex:i,position:'bottom',min:52.2,max:198.8,name:'bpm',nameLocation:'middle',nameGap:p.xGap,
   nameTextStyle:{fontFamily:'DejaVu Sans',fontSize:22,color:'#555',padding:p.pad},
   splitLine:{show:false},axisLine:{show:false,onZero:false},
   axisTick:{show:true,length:5,inside:false,customValues:xTicks,lineStyle:{color:'#333',width:1.2}},
   axisLabel:{show:true,customValues:xTicks,color:ink,fontFamily:'DejaVu Sans',fontSize:14,margin:12,formatter:v=>String(v)}})),
 yAxis:panels.map((p,i)=>({type:'value',gridIndex:i,position:'left',min:p.y[0],max:p.y[1],name:p.yName,nameLocation:'middle',nameGap:p.yGap,
   nameTextStyle:{fontFamily:'DejaVu Sans',fontSize:21,color:'#555'},
   splitLine:{show:false},axisLine:{show:false,onZero:false},
   axisTick:{show:true,length:5,inside:false,customValues:p.ticks,lineStyle:{color:'#333',width:1.2}},
   axisLabel:{show:true,customValues:p.ticks,color:ink,fontFamily:'DejaVu Sans',fontSize:14,margin:10,formatter:v=>v.toFixed(1)}})),
 series:panels.map((p,i)=>({type:'scatter',xAxisIndex:i,yAxisIndex:i,symbol:'circle',symbolSize:7.5,silent:true,
   itemStyle:{color:'#0000ff',opacity:1},data:toPairs(p.cols)}))
});
</script></body></html>
